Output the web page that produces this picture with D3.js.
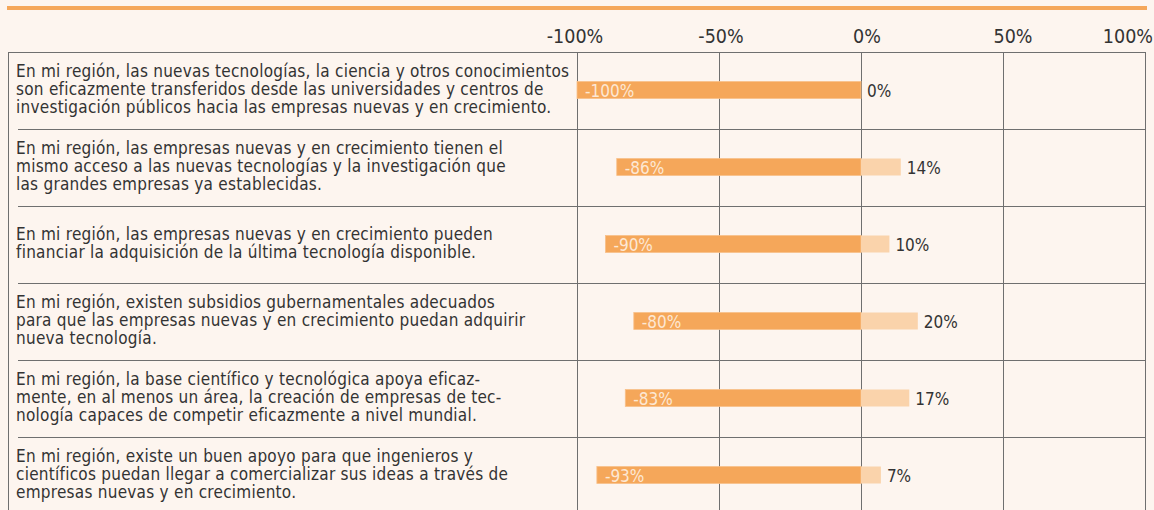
<!DOCTYPE html>
<html lang="es">
<head>
<meta charset="UTF-8" />
<title>Tecnología en empresas nuevas</title>
<script src="https://d3js.org/d3.v7.min.js"></script>
<style>
  body { margin: 0; background: #fdf5ef; }
  svg { display: block; }
  text { font-family: "DejaVu Sans Condensed", "DejaVu Sans", sans-serif; font-stretch: condensed; }
</style>
</head>
<body>
<script>
  // Datos
  const categories = [
    ["En mi región, las nuevas tecnologías, la ciencia y otros conocimientos",
     "son eficazmente transferidos desde las universidades y centros de",
     "investigación públicos hacia las empresas nuevas y en crecimiento."],
    ["En mi región, las empresas nuevas y en crecimiento tienen el",
     "mismo acceso a las nuevas tecnologías y la investigación que",
     "las grandes empresas ya establecidas."],
    ["En mi región, las empresas nuevas y en crecimiento pueden",
     "financiar la adquisición de la última tecnología disponible."],
    ["En mi región, existen subsidios gubernamentales adecuados",
     "para que las empresas nuevas y en crecimiento puedan adquirir",
     "nueva tecnología."],
    ["En mi región, la base científico y tecnológica apoya eficaz-",
     "mente, en al menos un área, la creación de empresas de tec-",
     "nología capaces de competir eficazmente a nivel mundial."],
    ["En mi región, existe un buen apoyo para que ingenieros y",
     "científicos puedan llegar a comercializar sus ideas a través de",
     "empresas nuevas y en crecimiento."]
  ];
  const negValues = [-100, -86, -90, -80, -83, -93];
  const posValues = [0, 14, 10, 20, 17, 7];
  const tickValues = [-100, -50, 0, 50, 100];

  const width = 1154, height = 510;
  const orange = '#f5a75a', lightOrange = '#fad3ab', grid = '#6f6f6f', ink = '#333333';

  const svg = d3.select('body').append('svg')
    .attr('width', width)
    .attr('height', height);

  const x = d3.scaleLinear().domain([-100, 100]).range([577, 1145]);
  const tickX = d3.scaleLinear().domain([-100, 100]).range([575, 1159]);
  const y = d3.scaleBand().domain(d3.range(categories.length)).range([52, 52 + 77 * categories.length]);
  const px = v => Math.round(v) + 0.5;

  const frameLeft = 8, textLeft = 16;
  const barH = 17;

  // Linea superior naranja
  svg.append('line')
    .attr('x1', 7).attr('x2', 1147)
    .attr('y1', 8).attr('y2', 8)
    .attr('stroke', orange)
    .attr('stroke-width', 4);

  // Marco
  svg.append('line')
    .attr('x1', frameLeft).attr('x2', px(x(100)))
    .attr('y1', px(y(0))).attr('y2', px(y(0)))
    .attr('stroke', grid);
  svg.append('line')
    .attr('x1', px(frameLeft)).attr('x2', px(frameLeft))
    .attr('y1', y(0)).attr('y2', height)
    .attr('stroke', grid);

  // Lineas de cuadricula
  svg.append('g')
    .selectAll('line')
    .data(tickValues)
    .enter().append('line')
    .attr('x1', d => px(x(d))).attr('x2', d => px(x(d)))
    .attr('y1', y(0)).attr('y2', height)
    .attr('stroke', grid);

  // Separadores de filas
  svg.append('g')
    .selectAll('line')
    .data(d3.range(categories.length - 1))
    .enter().append('line')
    .attr('x1', textLeft + 2).attr('x2', px(x(100)))
    .attr('y1', d => px(y(d) + y.bandwidth()))
    .attr('y2', d => px(y(d) + y.bandwidth()))
    .attr('stroke', grid);

  // Etiquetas del eje
  svg.append('g')
    .selectAll('text')
    .data(tickValues)
    .enter().append('text')
    .attr('x', d => d === 100 ? width - 1 : tickX(d))
    .attr('y', 43)
    .attr('text-anchor', d => d === 100 ? 'end' : 'middle')
    .attr('font-size', '19.5px')
    .attr('fill', ink)
    .text(d => d + '%');

  // Textos de las filas
  const lineH = 18;
  svg.append('g')
    .selectAll('text')
    .data(categories)
    .enter().append('text')
    .attr('font-size', '17px')
    .attr('letter-spacing', '0.25px')
    .attr('fill', ink)
    .each(function(lines, i) {
      const cy = y(i) + y.bandwidth() / 2;
      const top = cy - (lines.length - 1) * lineH / 2 - 1;
      d3.select(this).selectAll('tspan')
        .data(lines)
        .enter().append('tspan')
        .attr('x', textLeft)
        .attr('y', (l, j) => top + j * lineH)
        .attr('dy', '0.35em')
        .text(l => l);
    });

  // Barras
  const rows = svg.append('g')
    .selectAll('g')
    .data(d3.range(categories.length))
    .enter().append('g');

  const barY = i => y(i) + y.bandwidth() / 2 - barH / 2 - 0.5;

  rows.append('rect')
    .attr('x', i => x(negValues[i]))
    .attr('y', barY)
    .attr('width', i => x(0) - x(negValues[i]))
    .attr('height', barH)
    .attr('fill', orange)
    .attr('stroke', '#f8c08a')
    .attr('stroke-width', 0.8);

  rows.filter(i => posValues[i] > 0).append('rect')
    .attr('x', x(0))
    .attr('y', barY)
    .attr('width', i => x(posValues[i]) - x(0))
    .attr('height', barH)
    .attr('fill', lightOrange);

  rows.append('text')
    .attr('x', i => x(negValues[i]) + 8)
    .attr('y', i => barY(i) + barH / 2 + 1)
    .attr('dy', '0.35em')
    .attr('font-size', '17px')
    .attr('fill', '#fde8d4')
    .text(i => negValues[i] + '%');

  rows.append('text')
    .attr('x', i => x(posValues[i]) + 6)
    .attr('y', i => barY(i) + barH / 2 + 1)
    .attr('dy', '0.35em')
    .attr('font-size', '17px')
    .attr('fill', ink)
    .text(i => posValues[i] + '%');
</script>
</body>
</html>
